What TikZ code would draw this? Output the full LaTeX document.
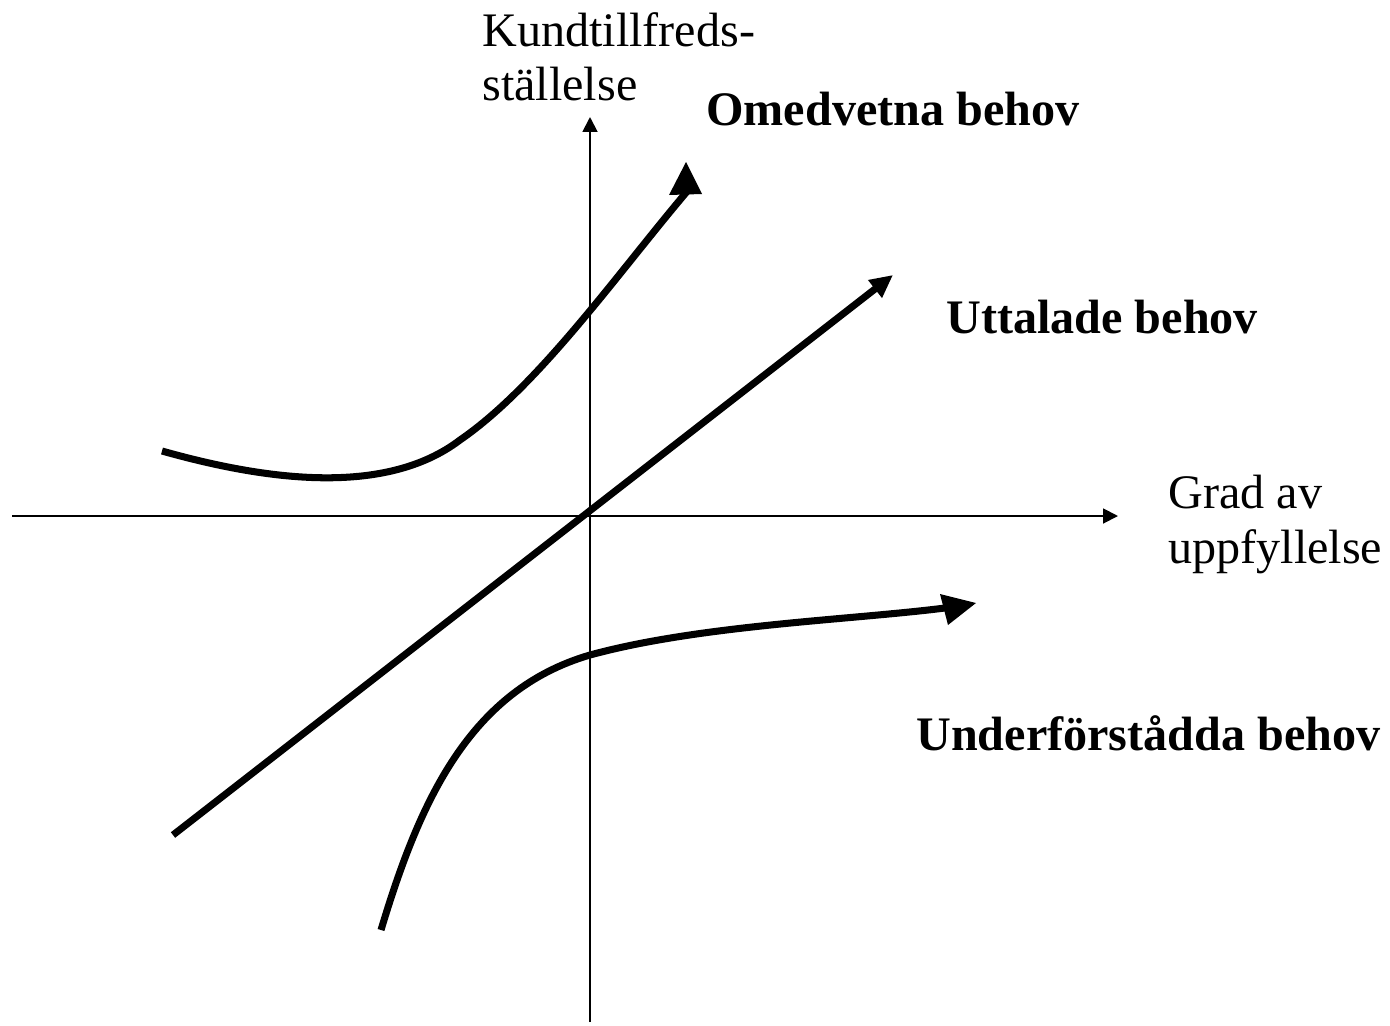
\documentclass[tikz,border=0pt]{standalone}
\usepackage{fontspec}
\setmainfont{Liberation Serif}
\usetikzlibrary{arrows.meta}

\begin{document}
\begin{tikzpicture}[
  x=0.02cm, y=-0.02cm,
  axis/.style={line width=1.1pt, -{Triangle[length=8.5pt, width=8.5pt]}},
  need/.style={line width=4pt},
  needarrow/.style={need, -{Triangle[length=13pt, width=12pt]}},
  head/.style={fill=black},
  lbl/.style={font=\fontsize{27.4}{33}\selectfont, inner sep=0pt},
  lblb/.style={inner sep=0pt, font=\fontsize{27.4}{33}\selectfont\bfseries}
]
  \useasboundingbox (0,0) rectangle (1390,1025);

  % axes
  \coordinate (xs) at (12,516);
  \coordinate (xe) at (1118,516);
  \coordinate (ys) at (590,1022);
  \coordinate (ye) at (590,117);
  \draw[axis] (xs) -- (xe);
  \draw[axis] (ys) -- (ye);

  \node[lbl, anchor=base west] (ylab1) at (482,46) {Kundtillfreds-};
  \node[lbl, anchor=base west] (ylab2) at (482,100) {ställelse};
  \node[lbl, anchor=base west] (xlab1) at (1168,508) {Grad av};
  \node[lbl, anchor=base west] (xlab2) at (1168,563) {uppfyllelse};

  % uttalade behov
  \coordinate (us) at (173,835);
  \coordinate (ue) at (893,275);
  \draw[needarrow] (us) -- (ue);
  \node[lblb, anchor=base west] (ulab) at (946,333) {Uttalade behov};

  % omedvetna behov
  \coordinate (os) at (162,451);
  \coordinate (om) at (460,440);
  \coordinate (oe) at (690,188);
  \draw[need] (os) .. controls (265,480) and (385,497) .. (om)
    .. controls (540,385) and (620,270) .. (oe);
  \fill[head] (686,162) -- (669,195) -- (702,194) -- cycle;
  \node[lblb, anchor=base west] (olab) at (706,125) {Omedvetna behov};

  % underförstådda behov
  \coordinate (bs) at (381,930);
  \coordinate (bm) at (590,655);
  \coordinate (be) at (945,608);
  \draw[need] (bs) .. controls (420,800) and (470,690) .. (bm)
    .. controls (700,625) and (850,620) .. (be);
  \fill[head] (976,603) -- (940,594) -- (948,625) -- cycle;
  \node[lblb, anchor=base west] (blab) at (916,750) {Underförstådda behov};
\end{tikzpicture}
\end{document}
